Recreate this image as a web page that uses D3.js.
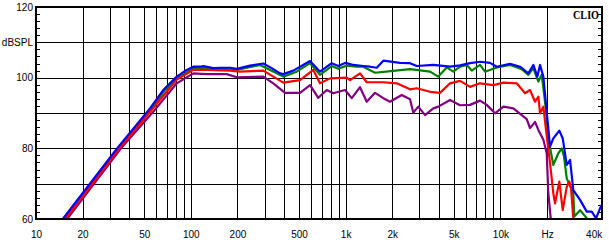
<!DOCTYPE html>
<html>
<head>
<meta charset="utf-8">
<script src="https://cdn.jsdelivr.net/npm/d3@7"></script>
<style>
  body { margin: 0; background: #fff; }
  svg { display: block; }
</style>
</head>
<body>
<svg width="609" height="243"></svg>
<script>
// frequency (Hz), level (dBSPL)
const blue = [[14.9,60],[33.4,80],[54.5,91.3],[66.4,96.5],[81.1,100.3],[94.1,102.2],[103.8,103.1],[114.7,103.1],[120.4,103.3],[139.7,102.7],[154.4,102.8],[179.2,102.8],[197.9,102.5],[241.3,103.4],[294,104.0],[333,102.7],[377,101.2],[396,101.0],[459,102.0],[589,104.7],[683,101.7],[813,104.1],[897,103.3],[1001,104.2],[1121,103.6],[1301,103.3],[1438,103.1],[1588,102.8],[1752,104.8],[2246,104.2],[2606,104.1],[2880,103.3],[3686,103.6],[4726,103.1],[5483,103.5],[6364,104.1],[7383,104.5],[8567,104.2],[9465,103.1],[11535,103.9],[13385,103.1],[15142,101.2],[16317,103.6],[17319,100.3],[18027,103.6],[18934,100.3],[20000,89.4],[20909,80.5],[21963,82.8],[24016,85.0],[25259,82.8],[26810,75.3],[28158,76.7],[29574,68.2],[32680,65.4],[36110,62.1],[38890,62.1],[41470,60.2],[44000,63.0],[45300,64.0]];
const green = [[15.3,60],[34.1,80],[55.8,91.3],[68.1,96.5],[82.6,99.9],[103.8,102.7],[126.7,102.7],[197.9,102.2],[279.9,103.6],[395.8,100.3],[483,101.7],[589,104.1],[683,100.8],[813,103.3],[897,102.5],[1016,103.4],[1179,103.1],[1301,103.1],[1548,101.4],[2033,101.9],[2606,102.4],[3510,101.7],[3970,100.3],[4499,102.9],[4963,101.7],[5483,103.1],[6059,103.6],[6527,102.0],[7383,103.6],[7954,101.7],[9465,102.9],[11535,103.6],[13728,102.4],[15142,100.8],[16317,102.7],[17577,98.9],[18490,100.8],[19703,90.8],[20386,82.8],[21963,75.3],[23660,78.6],[24889,80.0],[25757,77.6],[26810,71.5],[29574,67.3],[30020,60.7],[32680,62.5],[36110,60.2],[38000,58]];
const red = [[15.5,60],[34.6,80],[56.2,91.0],[81.1,99.5],[103.8,102.2],[126.7,102.2],[179.2,102.0],[207.9,101.7],[294,102.0],[395.8,98.6],[507.5,99.3],[618.5,102.2],[683,98.4],[793,99.8],[1016,100.0],[1068,99.3],[1239,101.2],[1369,98.7],[1752,98.7],[2138,98.4],[2606,96.7],[2880,97.0],[3510,96.0],[4072,95.7],[4726,98.4],[5483,99.1],[6364,97.4],[7383,98.4],[8999,97.9],[10440,98.6],[12742,98.4],[14417,95.6],[15530,96.5],[16735,93.2],[17577,94.6],[18027,89.9],[18934,91.8],[19703,85.2],[20909,75.8],[21963,67.3],[22526,64.4],[24016,70.6],[25259,62.5],[26810,69.1],[27867,70.6],[28582,68.7],[29574,60.2],[30500,57]];
const purple = [[15.9,60],[35.4,80],[57.9,90.6],[81.1,98.4],[103.8,101.2],[126.7,101.0],[170.6,101.0],[197.9,100.1],[294,100.3],[341.2,98.4],[406,95.7],[507.5,95.7],[589,97.9],[666,94.3],[755,96.5],[833,95.6],[991,96.5],[1095,94.2],[1239,97.3],[1369,93.2],[1548,95.7],[1752,94.2],[1936,93.2],[2304,95.1],[2606,93.9],[2737,90.1],[2948,91.8],[3258,89.4],[3686,91.3],[3970,91.8],[4726,93.7],[5483,92.2],[6364,92.3],[7383,93.5],[8156,92.3],[9228,89.9],[10440,91.8],[12115,91.3],[13728,89.4],[14787,88.3],[15530,85.7],[16735,87.5],[17577,85.2],[18934,82.4],[19908,78.6],[20386,67.3],[21127,60.2],[21500,57]];

const series = [
  { data: green, color: "#008000" },
  { data: purple, color: "#800080" },
  { data: red, color: "#ff0000" },
  { data: blue, color: "#0000ff" }
];

const xTickVals = [10, 20, 50, 100, 200, 500, 1000, 2000, 5000, 10000, 20000, 40000];
const xTickText = ["10", "20", "50", "100", "200", "500", "1k", "2k", "5k", "10k", "Hz", "40k"];
const xGridVals = [20,30,40,50,60,70,80,90,100,200,300,400,500,600,700,800,900,
                   1000,2000,3000,4000,5000,6000,7000,8000,9000,10000,20000];
const yTickVals = [60, 80, 100, 110, 120];
const yTickText = ["60", "80", "100", "dBSPL", "120"];
const yGridVals = [70, 80, 90, 100, 110];
const yMinorVals = d3.range(60, 121, 2);

const L = 36, R = 602, T = 7, B = 219;

const svg = d3.select("svg");
const x = d3.scaleLog().domain([10, 45300]).range([L, R]);
const y = d3.scaleLinear().domain([60, 120]).range([B, T]);

// grid
let gx = svg.append("g")
    .attr("transform", "translate(0," + B + ")")
    .call(d3.axisBottom(x).tickValues(xGridVals).tickSize(-(B - T)).tickFormat(""));
gx.select(".domain").remove();

let gy = svg.append("g")
    .attr("transform", "translate(" + L + ",0)")
    .call(d3.axisLeft(y).tickValues(yGridVals).tickSize(-(R - L)).tickFormat(""));
gy.select(".domain").remove();

// minor ticks, left and right
let ml = svg.append("g")
    .attr("transform", "translate(" + L + ",0)")
    .call(d3.axisLeft(y).tickValues(yMinorVals).tickSize(-4).tickFormat(""));
ml.select(".domain").remove();
let mr = svg.append("g")
    .attr("transform", "translate(" + R + ",0)")
    .call(d3.axisRight(y).tickValues(yMinorVals).tickSize(-4).tickFormat(""));
mr.select(".domain").remove();
svg.selectAll("line").attr("stroke", "#000").attr("shape-rendering", "crispEdges");

// curves
svg.append("defs").append("clipPath")
    .attr("id", "clip")
    .append("rect")
    .attr("x", L).attr("y", T)
    .attr("width", R - L).attr("height", B - T);

let line = d3.line()
    .x(d => x(d[0]))
    .y(d => y(d[1]));

svg.append("g").attr("clip-path", "url(#clip)")
    .selectAll("path")
    .data(series)
    .join("path")
    .attr("fill", "none")
    .attr("stroke", d => d.color)
    .attr("stroke-width", 2.2)
    .attr("stroke-linejoin", "round")
    .attr("d", d => line(d.data));

// frame
svg.append("rect")
    .attr("x", L).attr("y", T)
    .attr("width", R - L).attr("height", B - T)
    .attr("fill", "none")
    .attr("stroke", "#000")
    .attr("stroke-width", 2);

// labels
let xl = svg.append("g")
    .attr("transform", "translate(0," + B + ")")
    .call(d3.axisBottom(x).tickValues(xTickVals).tickSize(0).tickPadding(12)
        .tickFormat((d, i) => xTickText[i]));
xl.select(".domain").remove();

let yl = svg.append("g")
    .attr("transform", "translate(" + L + ",0)")
    .call(d3.axisLeft(y).tickValues(yTickVals).tickSize(0).tickPadding(3)
        .tickFormat((d, i) => yTickText[i]));
yl.select(".domain").remove();

[xl, yl].forEach(g => g
    .attr("font-family", "'Liberation Sans', Arial, sans-serif")
    .attr("font-size", 10)
    .selectAll("text").attr("fill", "#000"));

svg.append("text")
    .attr("x", 573).attr("y", 18.5)
    .attr("font-family", "'Liberation Serif', 'Times New Roman', serif")
    .attr("font-weight", "bold")
    .attr("font-size", 13)
    .attr("textLength", 26)
    .attr("lengthAdjust", "spacingAndGlyphs")
    .text("CLIO");
</script>
</body>
</html>
